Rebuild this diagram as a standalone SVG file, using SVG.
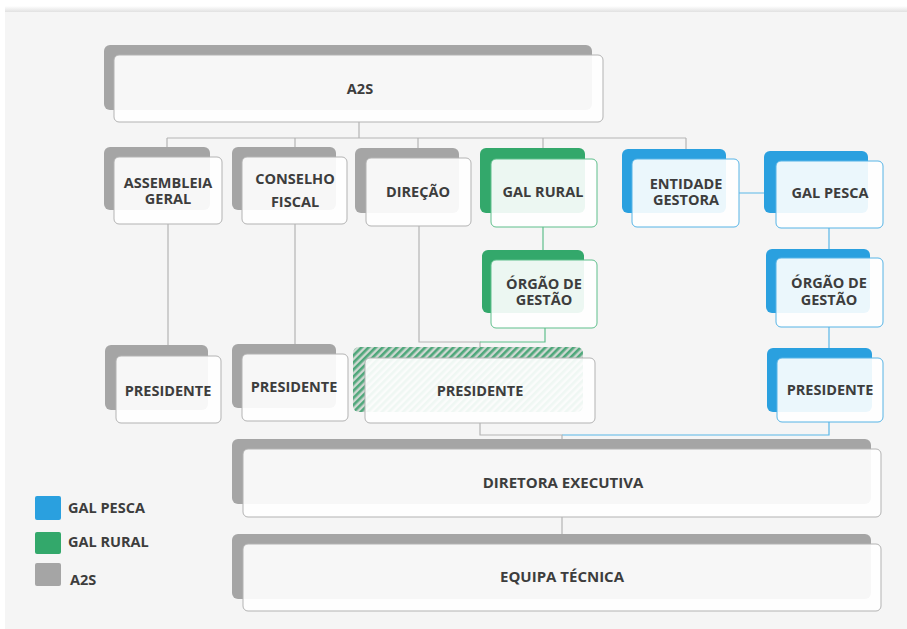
<svg xmlns="http://www.w3.org/2000/svg" width="907" height="629" viewBox="0 0 907 629">
<defs>
<pattern id="hatch" patternUnits="userSpaceOnUse" width="5" height="5" patternTransform="rotate(45)">
<rect width="5" height="5" fill="#cfd8d2"/>
<rect width="2.6" height="5" fill="#4ea77a"/>
</pattern>
<linearGradient id="topshade" x1="0" y1="0" x2="0" y2="1">
<stop offset="0" stop-color="#ffffff"/>
<stop offset="1" stop-color="#dcdcdc"/>
</linearGradient>
</defs>
<style>
.sg{fill:#a5a5a5}
.sgr{fill:#33a86b}
.sb{fill:#2aa0df}
.sh{fill:url(#hatch)}
.f{fill:#ffffff;fill-opacity:0.91;stroke:#b3b3b3;stroke-width:1}
.fgr{fill:#ffffff;fill-opacity:0.91;stroke:#5fbf8c;stroke-width:1}
.fb{fill:#ffffff;fill-opacity:0.91;stroke:#56b4e6;stroke-width:1}
.t{font-family:"Open Sans","Liberation Sans",sans-serif;font-weight:bold;font-size:14.5px;fill:#3d3d3d;text-anchor:middle}
.tl{font-size:15px}
.lt{font-family:"Open Sans","Liberation Sans",sans-serif;font-weight:bold;font-size:14.5px;fill:#3d3d3d}
.cg{stroke:#b5b5b5;stroke-width:1.2;fill:none}
.cgr{stroke:#5fbf8c;stroke-width:1.2;fill:none}
.cb{stroke:#5ab7e8;stroke-width:1.2;fill:none}
</style>
<rect x="0" y="0" width="907" height="629" fill="#ffffff"/>
<rect x="5" y="6" width="902" height="7" fill="url(#topshade)"/>
<rect x="5" y="12" width="902" height="617" fill="#f5f5f5"/>

<g id="connectors">
<path class="cg" d="M359 122V138M167 138H686M167 138V147M295 138V147M418 138V148M543 138V149M686 138V149"/>
<path class="cg" d="M168 224V345M295 224V344M419 226V342H480V347"/>
<path class="cgr" d="M543 226V250M545 328V342H480"/>
<path class="cb" d="M739 193H764M829 228V249M829 327V348M829 422V435H562"/>
<path class="cg" d="M480 423V435H562V439M562 517V534"/>
</g>

<g id="a2s">
<rect class="sg" x="104" y="45" width="488" height="65" rx="6"/>
<rect class="f" x="114" y="55" width="489" height="67" rx="5"/>
<text class="t" x="360" y="94">A2S</text>
</g>
<g id="assembleia-geral">
<rect class="sg" x="104" y="147" width="106" height="63" rx="6"/>
<rect class="f" x="114" y="157" width="108" height="67" rx="5"/>
<text class="t" x="168" y="188">ASSEMBLEIA</text>
<text class="t" x="168" y="204">GERAL</text>
</g>
<g id="conselho-fiscal">
<rect class="sg" x="232" y="147" width="104" height="63" rx="6"/>
<rect class="f" x="242" y="157" width="105" height="67" rx="5"/>
<text class="t" x="295" y="184">CONSELHO</text>
<text class="t" x="295" y="207">FISCAL</text>
</g>
<g id="direcao">
<rect class="sg" x="355" y="148" width="104" height="65" rx="6"/>
<rect class="f" x="366" y="158" width="105" height="68" rx="5"/>
<text class="t" x="418" y="197">DIREÇÃO</text>
</g>
<g id="gal-rural">
<rect class="sgr" x="480" y="148" width="105" height="65" rx="6"/>
<rect class="fgr" x="491" y="159" width="106" height="68" rx="5"/>
<text class="t" x="543" y="197">GAL RURAL</text>
</g>
<g id="entidade-gestora">
<rect class="sb" x="622" y="149" width="104" height="64" rx="6"/>
<rect class="fb" x="632" y="159" width="107" height="68" rx="5"/>
<text class="t" x="686" y="189">ENTIDADE</text>
<text class="t" x="686" y="205">GESTORA</text>
</g>
<g id="gal-pesca">
<rect class="sb" x="764" y="151" width="104" height="62" rx="6"/>
<rect class="fb" x="776" y="161" width="107" height="67" rx="5"/>
<text class="t" x="830" y="198">GAL PESCA</text>
</g>
<g id="orgao-gestao-rural">
<rect class="sgr" x="482" y="250" width="102" height="63" rx="6"/>
<rect class="fgr" x="491" y="260" width="106" height="68" rx="5"/>
<text class="t" x="544" y="289">ÓRGÃO DE</text>
<text class="t" x="544" y="305">GESTÃO</text>
</g>
<g id="orgao-gestao-pesca">
<rect class="sb" x="766" y="249" width="104" height="64" rx="6"/>
<rect class="fb" x="776" y="258" width="107" height="69" rx="5"/>
<text class="t" x="829" y="288">ÓRGÃO DE</text>
<text class="t" x="829" y="305">GESTÃO</text>
</g>
<g id="presidente-assembleia">
<rect class="sg" x="105" y="345" width="103" height="65" rx="6"/>
<rect class="f" x="116" y="356" width="105" height="67" rx="5"/>
<text class="t" x="168" y="396">PRESIDENTE</text>
</g>
<g id="presidente-conselho">
<rect class="sg" x="232" y="344" width="104" height="64" rx="6"/>
<rect class="f" x="242" y="354" width="106" height="67" rx="5"/>
<text class="t" x="294" y="392">PRESIDENTE</text>
</g>
<g id="presidente-direcao">
<rect class="sh" x="353" y="347" width="230" height="65" rx="6"/>
<rect class="f" x="365" y="358" width="230" height="65" rx="5"/>
<text class="t" x="480" y="396">PRESIDENTE</text>
</g>
<g id="presidente-pesca">
<rect class="sb" x="767" y="348" width="105" height="64" rx="6"/>
<rect class="fb" x="777" y="358" width="106" height="64" rx="5"/>
<text class="t" x="830" y="395">PRESIDENTE</text>
</g>
<g id="diretora-executiva">
<rect class="sg" x="232" y="439" width="639" height="65" rx="6"/>
<rect class="f" x="243" y="449" width="638" height="68" rx="5"/>
<text class="t tl" x="563" y="488">DIRETORA EXECUTIVA</text>
</g>
<g id="equipa-tecnica">
<rect class="sg" x="232" y="534" width="639" height="65" rx="6"/>
<rect class="f" x="243" y="544" width="638" height="67" rx="5"/>
<text class="t tl" x="562" y="582">EQUIPA TÉCNICA</text>
</g>
<g id="legend">
<rect x="35" y="496" width="26" height="24" rx="2" fill="#2aa0df"/>
<text class="lt" x="68" y="513">GAL PESCA</text>
<rect x="35" y="532" width="26" height="22" rx="2" fill="#33a86b"/>
<text class="lt" x="68" y="547">GAL RURAL</text>
<rect x="35" y="563" width="26" height="23" rx="2" fill="#a5a5a5"/>
<text class="lt" x="70" y="585">A2S</text>
</g>
</svg>
